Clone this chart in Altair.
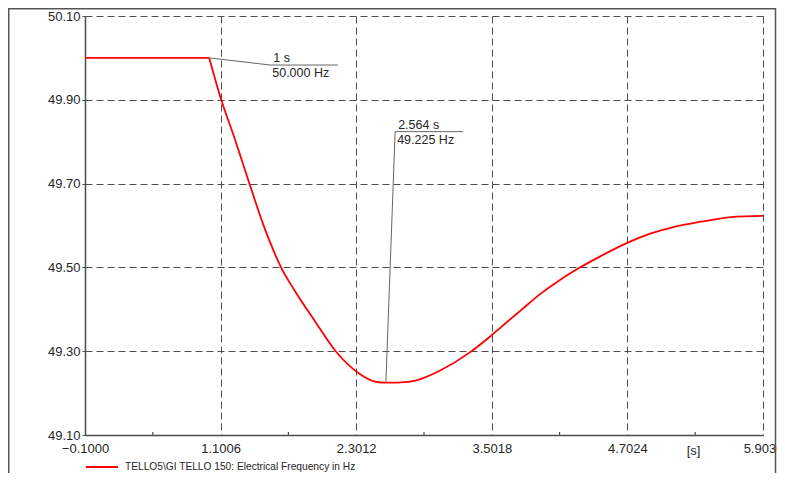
import altair as alt
import pandas as pd

# ---- data ----
series_name = "TELLO5\\GI TELLO 150: Electrical Frequency in Hz"
t_vals = [-0.1, 1.0,
          1.0, 1.1006, 1.222, 1.355, 1.487, 1.638, 1.753, 1.930, 2.125, 2.320,
          2.476, 2.564, 2.761, 2.876, 3.053, 3.301, 3.495, 3.581, 3.761, 3.938,
          4.115, 4.277, 4.467, 4.705, 4.911, 5.117, 5.354, 5.620, 5.903]
f_vals = [50.0, 50.0,
          50.0, 49.905, 49.810, 49.701, 49.596, 49.499, 49.446, 49.374, 49.298, 49.248,
          49.227, 49.225, 49.227, 49.234, 49.255, 49.296, 49.337, 49.357, 49.398, 49.438,
          49.472, 49.499, 49.527, 49.559, 49.581, 49.597, 49.609, 49.620, 49.623]
# segment 1: steady state before the event, segment 2: response after the event
seg_ids = [1, 1] + [2] * (len(t_vals) - 2)

x_ticks = [-0.1, 1.1006, 2.3012, 3.5018, 4.7024, 5.903]
x_minor = [0.5003, 1.7009, 2.9015, 4.1021, 5.3027]
y_ticks = [49.1, 49.3, 49.5, 49.7, 49.9, 50.1]

# annotations (marker point, label elbow, label line end)
ann_t = [1.0, 2.564]
ann_f = [50.000, 49.225]
ann_elbow_t = [1.54, 2.646]
ann_elbow_f = [49.983, 49.824]
ann_end_t = [2.141, 3.248]
ann_time_text = ["1 s", "2.564 s"]
ann_value_text = ["50.000 Hz", "49.225 Hz"]

FONT = "Liberation Sans, Arial, sans-serif"
GRID = "#4d4d4d"
TXT = "#262626"

curve = pd.DataFrame({"t": t_vals, "f": f_vals, "seg": seg_ids, "series": series_name})
ann = pd.DataFrame({"t": ann_t, "f": ann_f, "et": ann_elbow_t, "ef": ann_elbow_f,
                    "xt": ann_end_t, "tt": ann_time_text, "vt": ann_value_text})
minor = pd.DataFrame({"t": x_minor})

xs = alt.Scale(domain=[-0.1, 5.903], nice=False, zero=False)
ys = alt.Scale(domain=[49.1, 50.1], nice=False, zero=False)

x_axis = alt.Axis(values=x_ticks, format=".4f", grid=True, gridDash=[7, 4], gridColor=GRID,
                  gridWidth=1, gridOpacity=1, ticks=False, labelPadding=7, labelFlush=False,
                  labelFont=FONT, labelFontSize=13, labelColor=TXT, domainColor=GRID,
                  domainWidth=1.5, title="[s]", titleX=608, titleY=15, titleBaseline="middle",
                  titleAlign="center", titleFont=FONT, titleFontSize=13, titleFontWeight="normal",
                  titleColor=TXT)
y_axis = alt.Axis(values=y_ticks, format=".2f", grid=True, gridDash=[7, 4], gridColor=GRID,
                  gridWidth=1, gridOpacity=1, tickSize=3, tickColor=GRID, labelPadding=2,
                  labelFlush=False, labelFont=FONT, labelFontSize=13, labelColor=TXT,
                  domainColor=GRID, domainWidth=1.5, title=None)

line = alt.Chart(curve).mark_line(strokeWidth=1.8, clip=True, interpolate="monotone").encode(
    x=alt.X("t:Q", scale=xs, axis=x_axis),
    y=alt.Y("f:Q", scale=ys, axis=y_axis),
    detail="seg:N",
    order="t:Q",
    color=alt.Color("series:N", scale=alt.Scale(domain=[series_name], range=["#ff0000"]),
                    legend=alt.Legend(orient="none", legendX=0, legendY=434, title=None,
                                      symbolType="stroke", symbolSize=1024,
                                      symbolStrokeWidth=2, labelOffset=6, padding=0,
                                      labelFont=FONT, labelFontSize=10.2, labelColor=TXT,
                                      labelLimit=400)),
)

minor_ticks = alt.Chart(minor).mark_rule(color=GRID, strokeWidth=1.2).encode(
    x="t:Q", y=alt.value(419), y2=alt.value(416))

leader = alt.Chart(ann).mark_rule(color="#666666", strokeWidth=1).encode(
    x="t:Q", y="f:Q", x2="et:Q", y2="ef:Q")
underline = alt.Chart(ann).mark_rule(color="#666666", strokeWidth=1).encode(
    x="et:Q", x2="xt:Q", y="ef:Q")
time_txt = alt.Chart(ann).mark_text(align="left", baseline="alphabetic", dx=3, dy=-3,
                                    font=FONT, fontSize=12.5, color=TXT).encode(
    x="et:Q", y="ef:Q", text="tt:N")
val_txt = alt.Chart(ann).mark_text(align="left", baseline="alphabetic", dx=2, dy=12,
                                   font=FONT, fontSize=12.5, color=TXT).encode(
    x="et:Q", y="ef:Q", text="vt:N")

frame = alt.Chart(pd.DataFrame({"k": [0]})).mark_rect(
    fillOpacity=0, stroke="#555555", strokeWidth=1.5).encode(
    x=alt.value(-76.25), x2=alt.value(690.5), y=alt.value(-7.25), y2=alt.value(600))

chart = alt.layer(frame, minor_ticks, line, leader, underline, time_txt, val_txt).properties(
    width=678, height=419,
    autosize=alt.AutoSizeParams(type="none"),
    padding={"left": 77, "top": 8, "right": 14, "bottom": 38},
    background="white",
).configure_view(stroke=None)

chart.save("out.html", embed_options={"renderer": "svg", "actions": False})
